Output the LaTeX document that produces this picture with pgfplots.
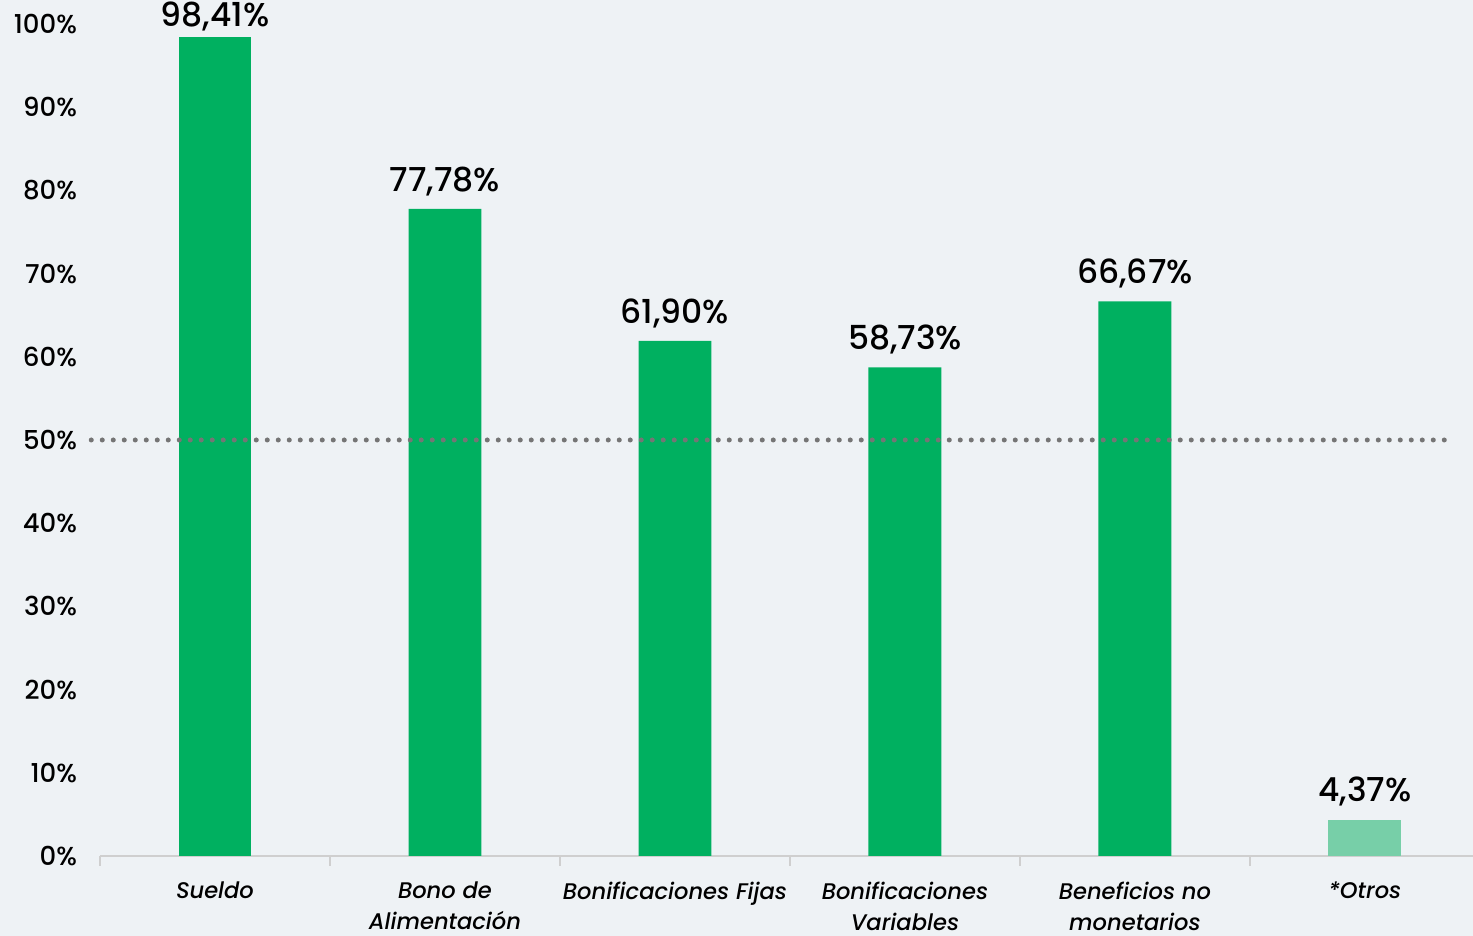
\documentclass[border=0pt]{standalone}
\usepackage{fontspec}
\setmainfont{Poppins}[UprightFont=* Medium, ItalicFont=* Medium Italic]
\usepackage{pgfplots}
\pgfplotsset{compat=1.18}

\definecolor{bg}{HTML}{EEF2F5}
\definecolor{barg}{HTML}{00B060}
\definecolor{barl}{HTML}{77CFA8}
\definecolor{dotg}{HTML}{757575}
\definecolor{axg}{HTML}{CFCFCF}

\begin{document}
\begin{tikzpicture}
\fill[bg] (-50pt,-40pt) rectangle (686.5pt,428pt);
\path[use as bounding box] (-50pt,-40pt) rectangle (686.5pt,428pt);
\begin{axis}[
    at={(0,0)}, anchor=south west,
    scale only axis,
    width=686.5pt, height=416pt,
    xmin=-0.5, xmax=5.47,
    ymin=0, ymax=100,
    clip=false,
    axis line style={draw=none},
    axis x line*=bottom,
    axis y line*=left,
    ytick={0,10,...,100},
    yticklabel={\pgfmathprintnumber{\tick}\%},
    yticklabel style={font=\fontsize{13}{15}\selectfont, xshift=-8pt},
    /pgf/number format/assume math mode=true,
    major tick length=0pt,
    xtick={0,...,5},
    xticklabels={Sueldo, {Bono de\\Alimentación}, Bonificaciones Fijas, {Bonificaciones\\Variables}, {Beneficios no\\monetarios}, *Otros},
    xticklabel style={font=\fontsize{11.3}{15.5}\selectfont\itshape, align=center, anchor=north, yshift=-9.5pt},
    nodes near coords style={font=\fontsize{16.5}{18}\selectfont, anchor=south, yshift=3pt},
]
% base line and separators
\draw[axg, line width=1pt] (axis cs:-0.5,0) -- (axis cs:5.6,0);
\draw[axg, line width=1pt] (axis cs:-0.5,0) -- (axis cs:-0.5,-1.2);
\draw[axg, line width=1pt] (axis cs:0.5,0) -- (axis cs:0.5,-1.2);
\draw[axg, line width=1pt] (axis cs:1.5,0) -- (axis cs:1.5,-1.2);
\draw[axg, line width=1pt] (axis cs:2.5,0) -- (axis cs:2.5,-1.2);
\draw[axg, line width=1pt] (axis cs:3.5,0) -- (axis cs:3.5,-1.2);
\draw[axg, line width=1pt] (axis cs:4.5,0) -- (axis cs:4.5,-1.2);
% top bar: label squeezed against the top edge
\addplot[ybar, bar width=0.317, fill=barg, draw=none,
  nodes near coords={\pgfmathprintnumber[fixed, fixed zerofill, precision=2, use comma]{\pgfplotspointmeta}\%},
  every node near coord/.append style={yshift=-3.5pt}]
  coordinates {(0,98.41)};
\addplot[ybar, bar width=0.317, fill=barg, draw=none,
  nodes near coords={\pgfmathprintnumber[fixed, fixed zerofill, precision=2, use comma]{\pgfplotspointmeta}\%}]
  coordinates {(1,77.78) (2,61.90) (3,58.73) (4,66.67)};
\addplot[ybar, bar width=0.317, fill=barl, draw=none,
  nodes near coords={\pgfmathprintnumber[fixed, fixed zerofill, precision=2, use comma]{\pgfplotspointmeta}\%}]
  coordinates {(5,4.37)};
\addplot[dotg, line width=2.5pt, line cap=round, dash pattern=on 0pt off 5.5pt]
  coordinates {(-0.538,50) (5.36,50)};
\end{axis}
\end{tikzpicture}
\end{document}
